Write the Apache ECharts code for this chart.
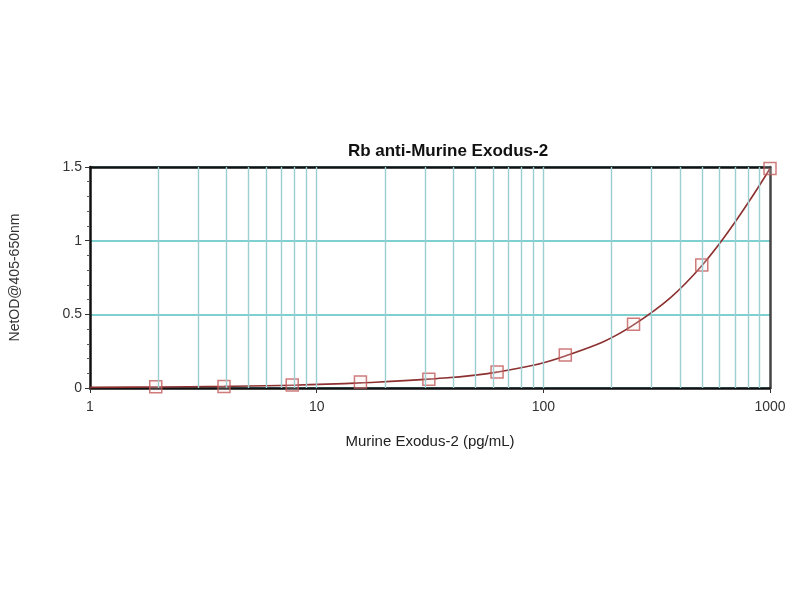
<!DOCTYPE html>
<html>
<head>
<meta charset="utf-8">
<script src="https://cdn.jsdelivr.net/npm/echarts@6/dist/echarts.min.js"></script>
<style>html,body{margin:0;padding:0;background:#fff}#c{width:800px;height:600px}</style>
</head>
<body>
<div id="c"></div>
<script>
// Measured standards (concentration pg/mL, NetOD)
var concentrations = [1.95, 3.9, 7.8, 15.6, 31.25, 62.5, 125, 250, 500, 1000];
var odValues = [0.008, 0.010, 0.020, 0.040, 0.060, 0.108, 0.224, 0.432, 0.835, 1.49];
// Fitted curve
var curveX = [1, 1.95, 3.9, 7.8, 15.6, 31.25, 62.5, 125, 250, 500, 1000];
var curveY = [0.004, 0.007, 0.011, 0.019, 0.035, 0.060, 0.108, 0.218, 0.428, 0.830, 1.49];
// Minor vertical grid positions (log decades)
var gridX = [2,3,4,5,6,7,8,9,10,20,30,40,50,60,70,80,90,100,200,300,400,500,600,700,800,900];
var yTicks = [0, 0.5, 1, 1.5];
var xTicks = [1, 10, 100, 1000];

var font = 'Liberation Sans';
var chart = echarts.init(document.getElementById('c'));
chart.setOption({
  animation: false,
  backgroundColor: '#fff',
  title: {
    text: 'Rb anti-Murine Exodus-2',
    left: 443, top: 138, textAlign: 'center',
    textStyle: {fontFamily: font, fontSize: 17, fontWeight: 'bold', color: '#111'}
  },
  grid: {left: 90, right: 30, top: 167, height: 221, show: false},
  xAxis: [{
    type: 'log', logBase: 10, min: 1, max: 1000,
    name: 'Murine Exodus-2 (pg/mL)', nameLocation: 'middle', nameGap: 46,
    nameTextStyle: {fontFamily: font, fontSize: 15, color: '#222'},
    axisLine: {show: true, lineStyle: {color: '#111', width: 2.5}},
    axisTick: {show: true, length: 5, lineStyle: {color: '#333'}},
    axisLabel: {margin: 12, fontFamily: font, fontSize: 14, color: '#333',
      formatter: function (v) { return String(Math.round(v)); }},
    splitLine: {show: false}
  }, {
    type: 'log', logBase: 10, min: 1, max: 1000, position: 'top',
    axisLine: {show: true, onZero: false, lineStyle: {color: '#111', width: 2.5}},
    axisTick: {show: false}, axisLabel: {show: false}, splitLine: {show: false}
  }],
  yAxis: [{
    type: 'value', min: 0, max: 1.5, interval: 0.5,
    name: 'NetOD@405-650nm', nameLocation: 'middle', nameGap: 68, nameRotate: 90,
    nameTextStyle: {fontFamily: font, fontSize: 14, color: '#333'},
    axisLine: {show: true, lineStyle: {color: '#111', width: 2.5}},
    axisTick: {show: true, length: 5, lineStyle: {color: '#333'}},
    minorTick: {show: true, splitNumber: 5, length: 3, lineStyle: {color: '#555'}},
    axisLabel: {margin: 8, fontFamily: font, fontSize: 14, color: '#333',
      formatter: function (v) { return yTicks.indexOf(v) >= 0 ? String(v) : ''; }},
    splitLine: {show: true, lineStyle: {color: '#7fd0d0', width: 2}}
  }, {
    type: 'value', min: 0, max: 1.5, interval: 0.5, position: 'right',
    axisLine: {show: true, onZero: false, lineStyle: {color: '#444', width: 2.5}},
    axisTick: {show: false}, axisLabel: {show: false}, splitLine: {show: false}
  }],
  series: [
    {
      type: 'line', data: [], silent: true,
      markLine: {
        silent: true, symbol: 'none', animation: false,
        label: {show: false},
        lineStyle: {color: '#9ccdd0', width: 1.4, type: 'solid'},
        data: gridX.map(function (x) { return {xAxis: x}; })
      }
    },
    {
      type: 'line', smooth: 0.4, showSymbol: false, silent: true,
      lineStyle: {color: '#8c3030', width: 1.6},
      data: curveX.map(function (x, i) { return [x, curveY[i]]; }),
      z: 3
    },
    {
      type: 'scatter', symbol: 'rect', symbolSize: 12,
      itemStyle: {color: 'rgba(255,230,230,0.25)', borderColor: '#c25a5a', borderWidth: 1.5},
      data: concentrations.map(function (x, i) { return [x, odValues[i]]; }),
      z: 4
    }
  ]
});
</script>
</body>
</html>
